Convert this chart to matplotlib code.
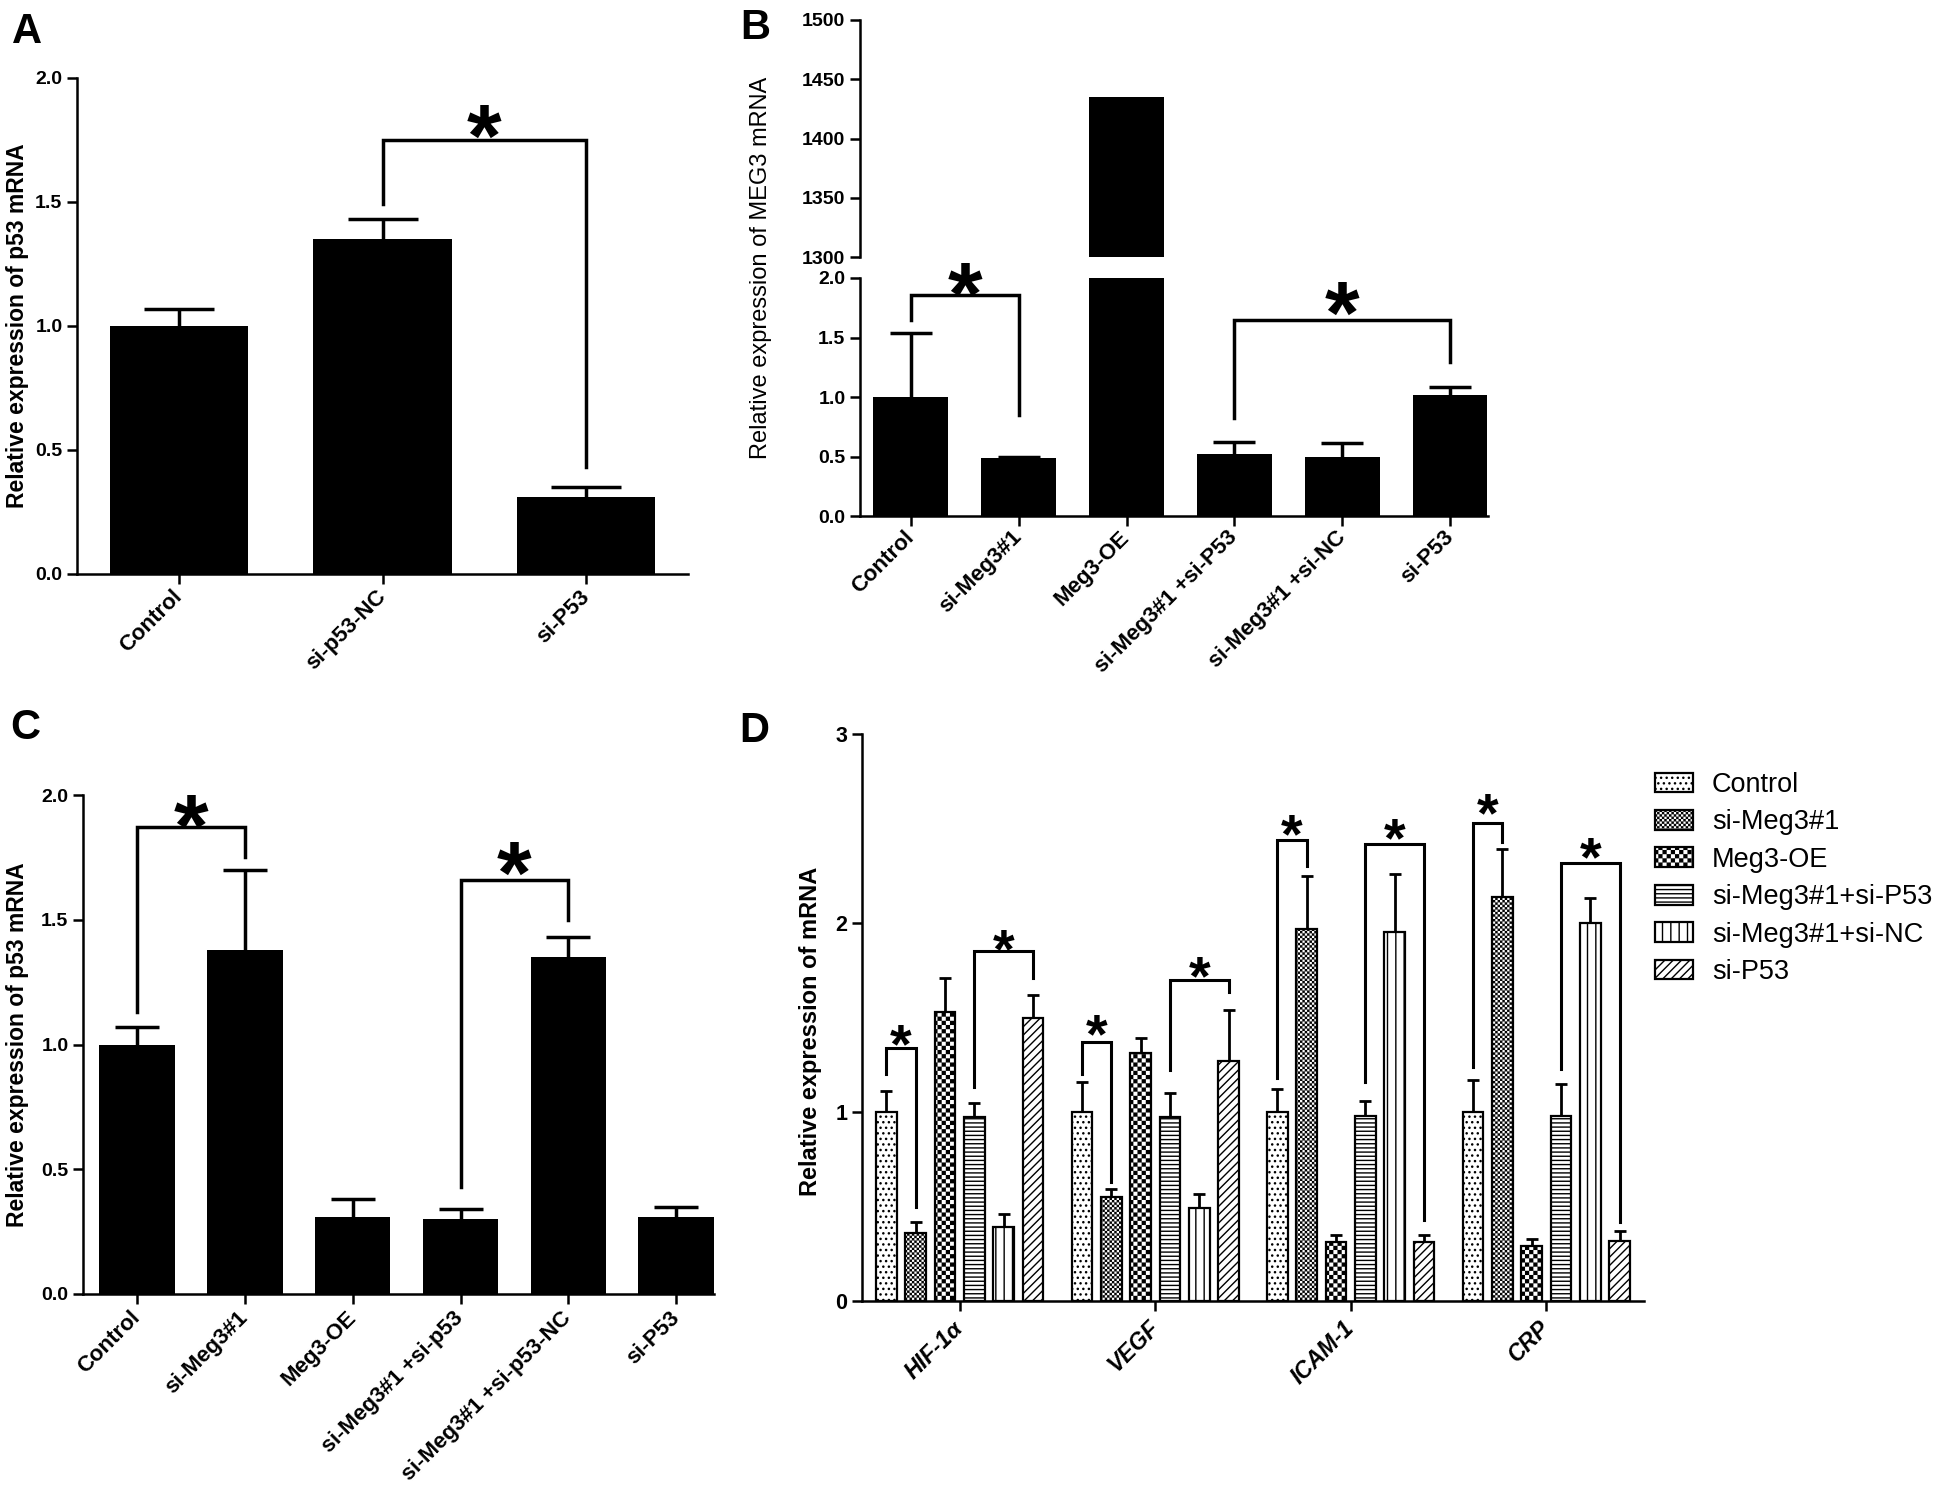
import numpy as np
import matplotlib
matplotlib.use("Agg")
import matplotlib.pyplot as plt
import matplotlib.hatch as mhatch
from matplotlib.path import Path
from matplotlib.ticker import FormatStrFormatter

# ---- data ----
a_groups = ["Control", "si-p53-NC", "si-P53"]
a_vals = [1.00, 1.35, 0.31]
a_err = [0.07, 0.08, 0.04]

b_groups = ["Control", "si-Meg3#1", "Meg3-OE", "si-Meg3#1 +si-P53", "si-Meg3#1 +si-NC", "si-P53"]
b_vals = [1.00, 0.49, 1435, 0.52, 0.50, 1.02]
b_err = [0.54, 0.005, 0.0, 0.10, 0.11, 0.06]

c_groups = ["Control", "si-Meg3#1", "Meg3-OE", "si-Meg3#1 +si-p53", "si-Meg3#1 +si-p53-NC", "si-P53"]
c_vals = [1.00, 1.38, 0.31, 0.30, 1.35, 0.31]
c_err = [0.07, 0.32, 0.07, 0.04, 0.08, 0.04]

d_genes = ["HIF-1α", "VEGF", "ICAM-1", "CRP"]
d_series = ["Control", "si-Meg3#1", "Meg3-OE", "si-Meg3#1+si-P53", "si-Meg3#1+si-NC", "si-P53"]
d_control = [1.00, 1.00, 1.00, 1.00]
d_control_err = [0.11, 0.16, 0.12, 0.17]
d_simeg = [0.36, 0.55, 1.97, 2.14]
d_simeg_err = [0.06, 0.04, 0.28, 0.25]
d_oe = [1.53, 1.31, 0.31, 0.29]
d_oe_err = [0.18, 0.08, 0.04, 0.04]
d_simeg_sip53 = [0.975, 0.975, 0.98, 0.98]
d_simeg_sip53_err = [0.075, 0.125, 0.08, 0.17]
d_simeg_sinc = [0.39, 0.49, 1.95, 2.00]
d_simeg_sinc_err = [0.07, 0.075, 0.31, 0.13]
d_sip53 = [1.50, 1.27, 0.31, 0.32]
d_sip53_err = [0.12, 0.27, 0.04, 0.05]

# significance brackets: (left bar, right bar, top, left leg end, right leg end, star y)
a_sig = [(1, 2, 1.75, 1.49, 0.43, 1.86)]
b_sig = [(0, 1, 1.86, 1.65, 0.85, 2.06), (3, 5, 1.65, 0.82, 1.29, 1.90)]
c_sig = [(0, 1, 1.87, 1.13, 1.75, 1.97), (3, 4, 1.66, 0.43, 1.50, 1.78)]
# panel D: (gene, series i, series j, top, left leg end, right leg end, star y)
d_sig = [(0, 0, 1, 1.34, 1.20, 0.50, 1.44), (0, 3, 5, 1.85, 1.13, 1.71, 1.94),
         (1, 0, 1, 1.37, 1.20, 0.63, 1.49), (1, 3, 5, 1.70, 1.22, 1.635, 1.80),
         (2, 0, 1, 2.44, 1.18, 2.30, 2.55), (2, 3, 5, 2.42, 1.16, 0.43, 2.53),
         (3, 0, 1, 2.53, 1.24, 2.43, 2.66), (3, 3, 5, 2.32, 1.23, 0.42, 2.43)]


# checkerboard hatch on '*' (count of '*' sets the cell density)
class CheckerHatch(mhatch.HatchPatternBase):
    def __init__(self, hatch, density):
        self.n = hatch.count("*") * density
        self.num_vertices = (self.n * self.n // 2) * 5

    def set_vertices_and_codes(self, vertices, codes):
        n = self.n
        step = 1.0 / n
        pad = 0.0065
        k = 0
        for i in range(n):
            for j in range(n):
                if (i + j) % 2:
                    continue
                x0, y0 = i * step + pad, j * step + pad
                x1, y1 = (i + 1) * step - pad, (j + 1) * step - pad
                vertices[k:k + 5] = [[x0, y0], [x1, y0], [x1, y1], [x0, y1], [x0, y0]]
                codes[k:k + 5] = [Path.MOVETO, Path.LINETO, Path.LINETO, Path.LINETO, Path.CLOSEPOLY]
                k += 5


mhatch._hatch_types[:] = [t for t in mhatch._hatch_types if t is not mhatch.Stars] + [CheckerHatch]

plt.rcParams["font.family"] = ["Liberation Sans", "DejaVu Sans"]
plt.rcParams["font.weight"] = "bold"

W, H = 1938, 1486
fig = plt.figure(figsize=(W / 100, H / 100), dpi=100)


def box(l, t, r, b):
    return [l / W, 1 - b / H, (r - l) / W, (b - t) / H]


def style(ax, lw=1.8, size=14, xpad=7):
    for s in ("top", "right"):
        ax.spines[s].set_visible(False)
    for s in ("left", "bottom"):
        ax.spines[s].set_linewidth(lw)
    ax.tick_params(width=lw, length=7, labelsize=size)
    ax.tick_params(axis="x", pad=xpad)


def upper_err(ax, x, vals, err, capsize, lw):
    eb = ax.errorbar(x, vals, yerr=[np.zeros(len(vals)), err], fmt="none", ecolor="black",
                     elinewidth=lw, capsize=capsize, capthick=lw)
    eb[1][0].remove()  # keep only the top cap


def star(ax, x, y, fs):
    ax.annotate("*", (x, y), xytext=(0, -0.6 * fs), textcoords="offset points",
                ha="center", va="baseline", fontsize=fs, fontweight="bold",
                annotation_clip=False)


def bracket(ax, x1, x2, top, lb, rb, sy, fs, lw):
    ax.plot([x1, x1, x2, x2], [lb, top, top, rb], color="black", lw=lw,
            clip_on=False, solid_joinstyle="miter")
    star(ax, (x1 + x2) / 2, sy, fs)


def xlabels(ax, labels, size=16, style_="normal"):
    ax.set_xticklabels(labels, rotation=45, ha="right", va="center",
                       rotation_mode="anchor", fontsize=size, fontstyle=style_)


# --- A ---
axA = fig.add_axes(box(77, 78, 688, 574))
xa = np.arange(len(a_groups))
axA.bar(xa, a_vals, width=0.68, color="black")
upper_err(axA, xa, a_vals, a_err, 25, 2.5)
for i, j, top, lb, rb, sy in a_sig:
    bracket(axA, i, j, top, lb, rb, sy, 64, 2.5)
axA.set_xlim(-0.5, 2.5)
axA.set_ylim(0, 2.0)
axA.set_yticks([0, 0.5, 1.0, 1.5, 2.0])
axA.yaxis.set_major_formatter(FormatStrFormatter("%.1f"))
axA.set_xticks(xa)
style(axA)
xlabels(axA, a_groups)

# --- B (broken axis) ---
axB = fig.add_axes(box(860, 278, 1488, 516))
axBt = fig.add_axes(box(860, 20, 1488, 257))
xb = np.arange(len(b_groups))
for ax in (axB, axBt):
    ax.bar(xb, b_vals, width=0.69, color="black")
    ax.set_xlim(-0.47, 5.35)
upper_err(axB, xb, b_vals, b_err, 15, 2.5)
for i, j, top, lb, rb, sy in b_sig:
    bracket(axB, i, j, top, lb, rb, sy, 64, 2.5)
axB.set_ylim(0, 2.0)
axB.set_yticks([0, 0.5, 1.0, 1.5, 2.0])
axB.yaxis.set_major_formatter(FormatStrFormatter("%.1f"))
axB.set_xticks(xb)
style(axB, xpad=6)
xlabels(axB, b_groups)
axBt.set_ylim(1300, 1500)
axBt.set_yticks([1300, 1350, 1400, 1450, 1500])
style(axBt)
axBt.spines["bottom"].set_visible(False)
axBt.set_xticks([])

# --- C ---
axC = fig.add_axes(box(83, 795, 714, 1294))
xc = np.arange(len(c_groups))
axC.bar(xc, c_vals, width=0.70, color="black")
upper_err(axC, xc, c_vals, c_err, 16, 2.5)
for i, j, top, lb, rb, sy in c_sig:
    bracket(axC, i, j, top, lb, rb, sy, 64, 2.5)
axC.set_xlim(-0.5, 5.35)
axC.set_ylim(0, 2.0)
axC.set_yticks([0, 0.5, 1.0, 1.5, 2.0])
axC.yaxis.set_major_formatter(FormatStrFormatter("%.1f"))
axC.set_xticks(xc)
style(axC, xpad=8)
xlabels(axC, c_groups)

# --- D ---
axD = fig.add_axes(box(862, 734, 1644, 1301))
xd = np.arange(len(d_genes))
d_vals = [d_control, d_simeg, d_oe, d_simeg_sip53, d_simeg_sinc, d_sip53]
d_errs = [d_control_err, d_simeg_err, d_oe_err, d_simeg_sip53_err, d_simeg_sinc_err, d_sip53_err]
hatches = ["...", "*******", "****", "----", "||", "////"]
pitch, bw = 0.15, 0.105
for k in range(len(d_series)):
    pos = xd + (k - 2.5) * pitch
    axD.bar(pos, d_vals[k], width=bw, facecolor="white", edgecolor="black",
            hatch=hatches[k], linewidth=1.6, label=d_series[k])
    upper_err(axD, pos, d_vals[k], d_errs[k], 4.6, 2.0)
for g, i, j, top, lb, rb, sy in d_sig:
    bracket(axD, g + (i - 2.5) * pitch, g + (j - 2.5) * pitch, top, lb, rb, sy, 40, 2.2)
axD.set_xlim(-0.5, 3.5)
axD.set_ylim(0, 3)
axD.set_yticks([0, 1, 2, 3])
axD.set_xticks(xd)
style(axD, size=15.5, xpad=10)
xlabels(axD, d_genes, size=16.5, style_="italic")
axD.legend(loc="upper left", bbox_to_anchor=(1655 / W, 1 - 772 / H), bbox_transform=fig.transFigure,
           frameon=False, prop={"size": 19.5, "weight": "normal"}, handlelength=1.4,
           handleheight=0.74, handletextpad=0.7, labelspacing=0.42, borderpad=0, borderaxespad=0)

# --- y labels and panel letters ---
fig.text(18 / W, 1 - 326 / H, "Relative expression of p53 mRNA", rotation=90,
         ha="center", va="center", fontsize=16.5)
fig.text(761 / W, 1 - 268 / H, "Relative expression of MEG3 mRNA", rotation=90,
         ha="center", va="center", fontsize=17, fontweight="normal")
fig.text(18 / W, 1 - 1045 / H, "Relative expression of p53 mRNA", rotation=90,
         ha="center", va="center", fontsize=16.5)
fig.text(810 / W, 1 - 1031 / H, "Relative expression of mRNA", rotation=90,
         ha="center", va="center", fontsize=17)
for letter, x, y in [("A", 12, 12), ("B", 740, 8), ("C", 10, 708), ("D", 739, 711)]:
    fig.text(x / W, 1 - y / H, letter, ha="left", va="top", fontsize=30, fontweight="bold")

fig.savefig("out.png", dpi=100)
